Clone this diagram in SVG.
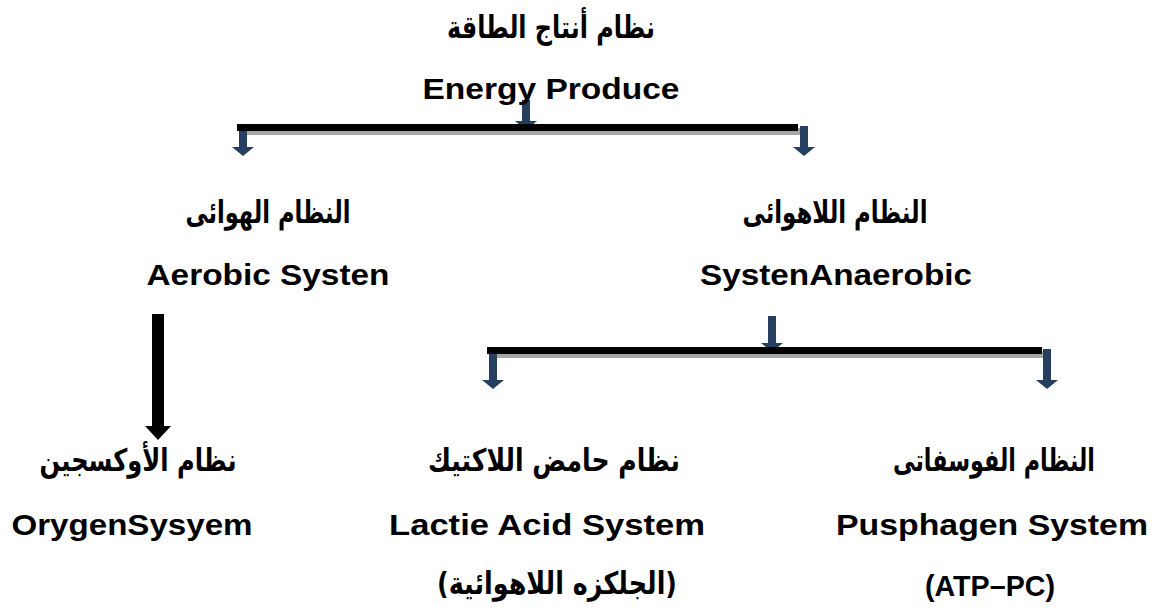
<svg xmlns="http://www.w3.org/2000/svg" width="1155" height="612" viewBox="0 0 1155 612">
<style>
.en{font-family:"Liberation Sans",Arial,sans-serif;font-weight:bold;font-size:30px;fill:#000;text-anchor:middle}
.ar{font-family:"DejaVu Sans","Noto Sans",sans-serif;font-weight:bold;font-size:31px;fill:#000;text-anchor:middle}
.blue{fill:#243F60}
.bar{fill:#000}
.shadow{fill:#A6A6A6}
</style>
<rect width="1155" height="612" fill="#fff"/>
<g id="connectors">
  <path class="blue" d="M522,100 L530,100 L530,121 L537,121 L526,130 L515,121 L522,121 Z"/>
  <rect class="shadow" x="240" y="128" width="561" height="7"/>
  <rect class="bar" x="237" y="124" width="561" height="7"/>
  <path class="blue" d="M239,131 L247,131 L247,147 L254,147 L243,156 L232,147 L239,147 Z"/>
  <path class="blue" d="M800,126 L808,126 L808,147 L815,147 L804,156 L793,147 L800,147 Z"/>
  <path class="blue" d="M768,316 L776,316 L776,343 L783,343 L772,352 L761,343 L768,343 Z"/>
  <rect class="shadow" x="490" y="351" width="555" height="7"/>
  <rect class="bar" x="487" y="347" width="555" height="7"/>
  <path class="blue" d="M489,354 L497,354 L497,380 L504,380 L493,389 L482,380 L489,380 Z"/>
  <path class="blue" d="M1043,349 L1051,349 L1051,380 L1058,380 L1047,389 L1036,380 L1043,380 Z"/>
  <path fill="#000" d="M152,314 L164,314 L164,426 L171,426 L158,440 L145,426 L152,426 Z"/>
</g>
<g id="root">
  <text class="ar" x="551" y="38" direction="rtl" textLength="208" lengthAdjust="spacingAndGlyphs">نظام أنتاج الطاقة</text>
  <text class="en" x="551" y="99" textLength="257" lengthAdjust="spacingAndGlyphs">Energy Produce</text>
</g>
<g id="aerobic">
  <text class="ar" x="268" y="223" direction="rtl" textLength="165" lengthAdjust="spacingAndGlyphs">النظام الهوائى</text>
  <text class="en" x="268" y="285" textLength="243" lengthAdjust="spacingAndGlyphs">Aerobic Systen</text>
</g>
<g id="anaerobic">
  <text class="ar" x="835" y="223" direction="rtl" textLength="185" lengthAdjust="spacingAndGlyphs">النظام اللاهوائى</text>
  <text class="en" x="836" y="285" textLength="272" lengthAdjust="spacingAndGlyphs">SystenAnaerobic</text>
</g>
<g id="oxygen">
  <text class="ar" x="138" y="471" direction="rtl" textLength="197" lengthAdjust="spacingAndGlyphs">نظام الأوكسجين</text>
  <text class="en" x="132" y="535" textLength="241" lengthAdjust="spacingAndGlyphs">OrygenSysyem</text>
</g>
<g id="lactic">
  <text class="ar" x="554" y="471" direction="rtl" textLength="252" lengthAdjust="spacingAndGlyphs">نظام حامض اللاكتيك</text>
  <text class="en" x="547" y="535" textLength="316" lengthAdjust="spacingAndGlyphs">Lactie Acid System</text>
  <text class="ar" x="557" y="594" direction="rtl" textLength="240" lengthAdjust="spacingAndGlyphs">(الجلكزه اللاهوائية)</text>
</g>
<g id="phosphagen">
  <text class="ar" x="994" y="471" direction="rtl" textLength="202" lengthAdjust="spacingAndGlyphs">النظام الفوسفاتى</text>
  <text class="en" x="992" y="535" textLength="312" lengthAdjust="spacingAndGlyphs">Pusphagen System</text>
  <text class="en" x="990" y="596" textLength="130" lengthAdjust="spacingAndGlyphs">(ATP–PC)</text>
</g>
</svg>
